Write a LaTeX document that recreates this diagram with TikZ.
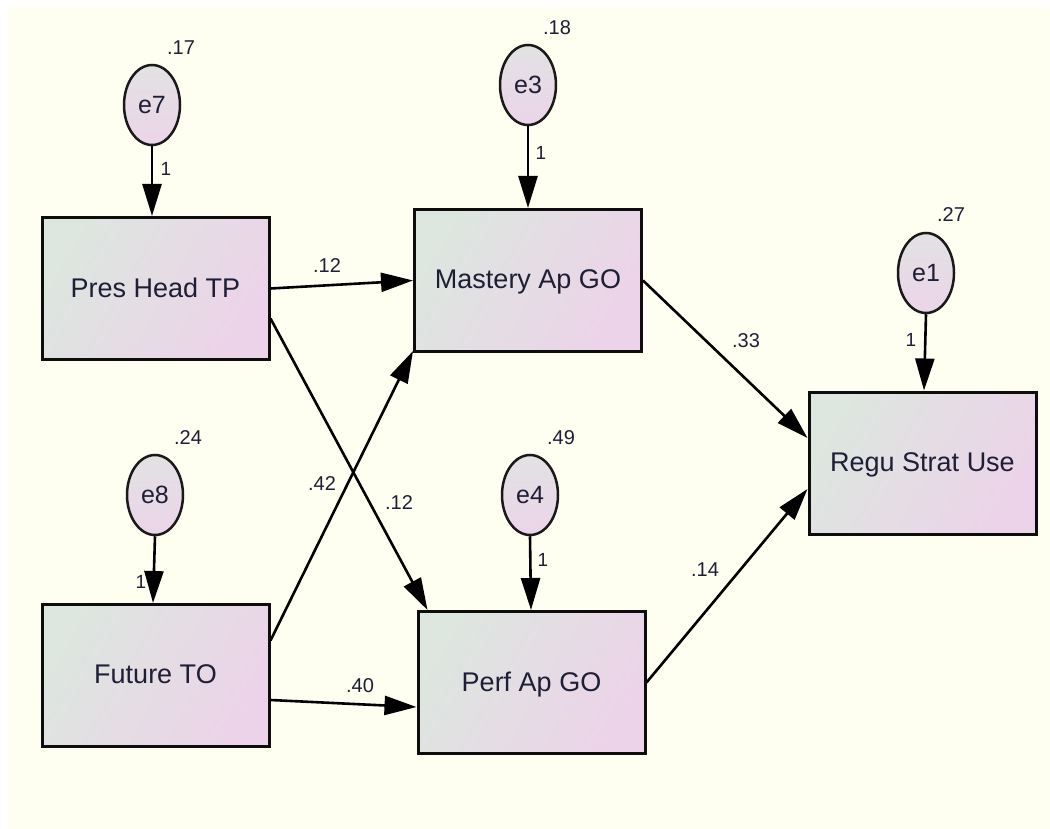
\documentclass[tikz,border=0pt]{standalone}
\usepackage{fontspec}
\setmainfont{Liberation Sans}
\usetikzlibrary{arrows.meta,shapes.geometric,calc}
\definecolor{paper}{RGB}{254,255,240}
\definecolor{shadeA}{RGB}{221,230,223}
\definecolor{shadeB}{RGB}{236,211,233}
\definecolor{ovalTop}{RGB}{226,226,226}
\definecolor{ovalBot}{RGB}{236,212,234}
\definecolor{ink}{RGB}{30,30,55}
\tikzset{
  varbox/.style={draw=black!95, line width=3pt, rectangle,
    minimum width=227pt, minimum height=142pt,
    left color=shadeA, right color=shadeB, shading angle=60,
    font=\fontsize{27}{30}\selectfont, text=ink, text depth=2pt},
  errnode/.style={draw=black!90, line width=2.5pt, ellipse,
    minimum width=56pt, minimum height=80pt, inner sep=0pt,
    top color=ovalTop, bottom color=ovalBot,
    font=\fontsize{25}{28}\selectfont, text=ink},
  path/.style={line width=2.6pt, draw=black,
    -{Triangle[length=32pt,width=19pt]}},
  coef/.style={font=\fontsize{20}{22}\selectfont, text=ink, inner sep=0pt},
  unit/.style={font=\fontsize{19}{21}\selectfont, text=ink, inner sep=0pt}
}
\begin{document}
\begin{tikzpicture}[x=1pt,y=-1pt]
  \useasboundingbox (0,0) rectangle (1050,829);
  \fill[white] (0,0) rectangle (1050,829);
  \fill[paper] (8,7) rectangle (1050,829);

  % observed variables
  \node[varbox] (pres)  at (155.5,288.5) {Pres Head TP};
  \node[varbox] (mast)  at (528,280.5)   {Mastery Ap GO};
  \node[varbox] (regu)  at (922.5,463)   {Regu Strat Use};
  \node[varbox] (fut)   at (155.5,675.5) {Future TO};
  \node[varbox] (perf)  at (531.5,682.5) {Perf Ap GO};

  % error terms
  \node[errnode] (e7) at (152,105) {e7};
  \node[errnode] (e3) at (528,85)  {e3};
  \node[errnode] (e1) at (926,273) {e1};
  \node[errnode] (e8) at (155,495) {e8};
  \node[errnode] (e4) at (530,495) {e4};

  % error variances
  \node[coef] (v7) at (181,48)  {.17};
  \node[coef] (v3) at (557,28)  {.18};
  \node[coef] (v1) at (951,215) {.27};
  \node[coef] (v8) at (188,438) {.24};
  \node[coef] (v4) at (561,438) {.49};

  % error paths fixed to 1
  \draw[path] (e7.south) -- (e7.south |- pres.north);
  \draw[path] (e3.south) -- (e3.south |- mast.north);
  \draw[path] (e1.south) -- ([xshift=-2pt]e1.south |- regu.north);
  \draw[path] (e8.south) -- ([xshift=-2pt]e8.south |- fut.north);
  \draw[path] (e4.south) -- ([xshift=1pt]e4.south |- perf.north);
  \node[unit] (u7) at (166,169) {1};
  \node[unit] (u3) at (541,153) {1};
  \node[unit] (u1) at (911,340) {1};
  \node[unit] (u8) at (141,582) {1};
  \node[unit] (u4) at (543,560) {1};

  % structural paths
  \draw[path] (pres.east) -- (mast.west);
  \draw[path] ([yshift=-30pt]pres.east) -- ([xshift=11pt]perf.north west);
  \draw[path] ([yshift=35pt]fut.east) -- ([yshift=2pt]mast.south west);
  \draw[path] ([yshift=-24.5pt]fut.east) -- ([yshift=-24.5pt]perf.west);
  \draw[path] (mast.east) -- ([yshift=25pt]regu.west);
  \draw[path] (perf.east) -- ([yshift=-26pt]regu.west);

  % path coefficients
  \node[coef] (c1) at (327,266) {.12};
  \node[coef] (c2) at (399,503) {.12};
  \node[coef] (c3) at (322,484) {.42};
  \node[coef] (c4) at (360,686) {.40};
  \node[coef] (c5) at (746,341) {.33};
  \node[coef] (c6) at (705,570) {.14};
\end{tikzpicture}
\end{document}
